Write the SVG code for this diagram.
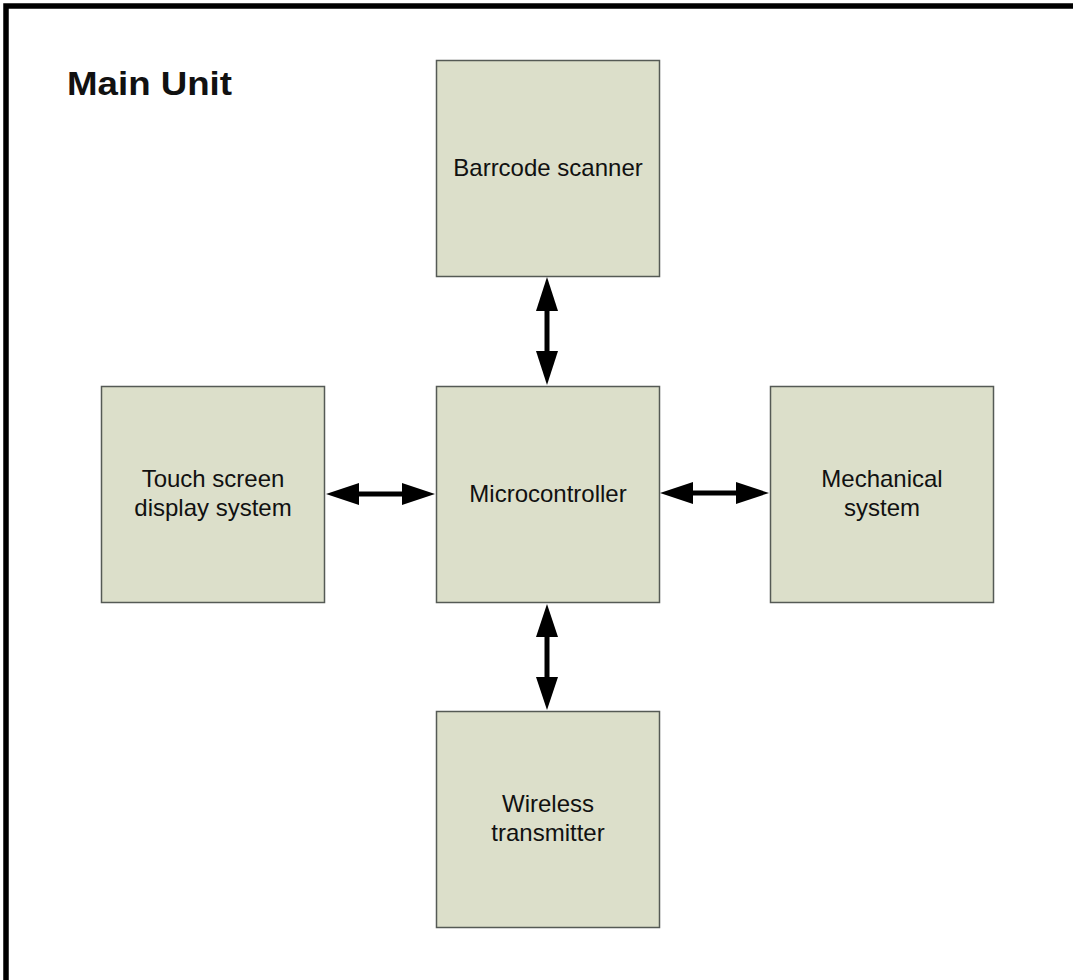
<svg xmlns="http://www.w3.org/2000/svg" width="1073" height="980" viewBox="0 0 1073 980">
  <style>
    .box { fill: #dcdfca; stroke: #555a55; stroke-width: 1.5; }
    .label { font-family: "Liberation Sans", Arial, sans-serif; font-size: 24px; fill: #111; text-anchor: middle; }
    .title { font-family: "Liberation Sans", Arial, sans-serif; font-size: 33px; font-weight: bold; fill: #111; }
    .link { stroke: #000; stroke-width: 5; fill: none; }
    .head { fill: #000; }
  </style>

  <rect width="1073" height="980" fill="#fff"/>
  <!-- frame -->
  <path d="M6,980 V6 H1073" fill="none" stroke="#000" stroke-width="5.5"/>

  <text class="title" x="67" y="95" textLength="165" lengthAdjust="spacingAndGlyphs">Main Unit</text>

  <g id="barcode-scanner">
    <rect class="box" x="436.5" y="60.5" width="223" height="216"/>
    <text class="label" x="548" y="176">Barrcode scanner</text>
  </g>

  <g id="touch-screen">
    <rect class="box" x="101.5" y="386.5" width="223" height="216"/>
    <text class="label" x="213" y="487">Touch screen</text>
    <text class="label" x="213" y="516">display system</text>
  </g>

  <g id="microcontroller">
    <rect class="box" x="436.5" y="386.5" width="223" height="216"/>
    <text class="label" x="548" y="502">Microcontroller</text>
  </g>

  <g id="mechanical-system">
    <rect class="box" x="770.5" y="386.5" width="223" height="216"/>
    <text class="label" x="882" y="487">Mechanical</text>
    <text class="label" x="882" y="516">system</text>
  </g>

  <g id="wireless-transmitter">
    <rect class="box" x="436.5" y="711.5" width="223" height="216"/>
    <text class="label" x="548" y="812">Wireless</text>
    <text class="label" x="548" y="841">transmitter</text>
  </g>

  <g id="connectors">
    <!-- scanner <-> microcontroller -->
    <line class="link" x1="547" y1="300" x2="547" y2="362"/>
    <polygon class="head" points="547,277 536,311 558,311"/>
    <polygon class="head" points="547,385 536,351 558,351"/>
    <!-- microcontroller <-> wireless -->
    <line class="link" x1="547" y1="628" x2="547" y2="688"/>
    <polygon class="head" points="547,604 536,637 558,637"/>
    <polygon class="head" points="547,710 536,677 558,677"/>
    <!-- touch screen <-> microcontroller -->
    <line class="link" x1="350" y1="494" x2="412" y2="494"/>
    <polygon class="head" points="326,494 359,483 359,505"/>
    <polygon class="head" points="435,494 402,483 402,505"/>
    <!-- microcontroller <-> mechanical -->
    <line class="link" x1="684" y1="493" x2="746" y2="493"/>
    <polygon class="head" points="660,493 693,482 693,504"/>
    <polygon class="head" points="769,493 736,482 736,504"/>
  </g>
</svg>
